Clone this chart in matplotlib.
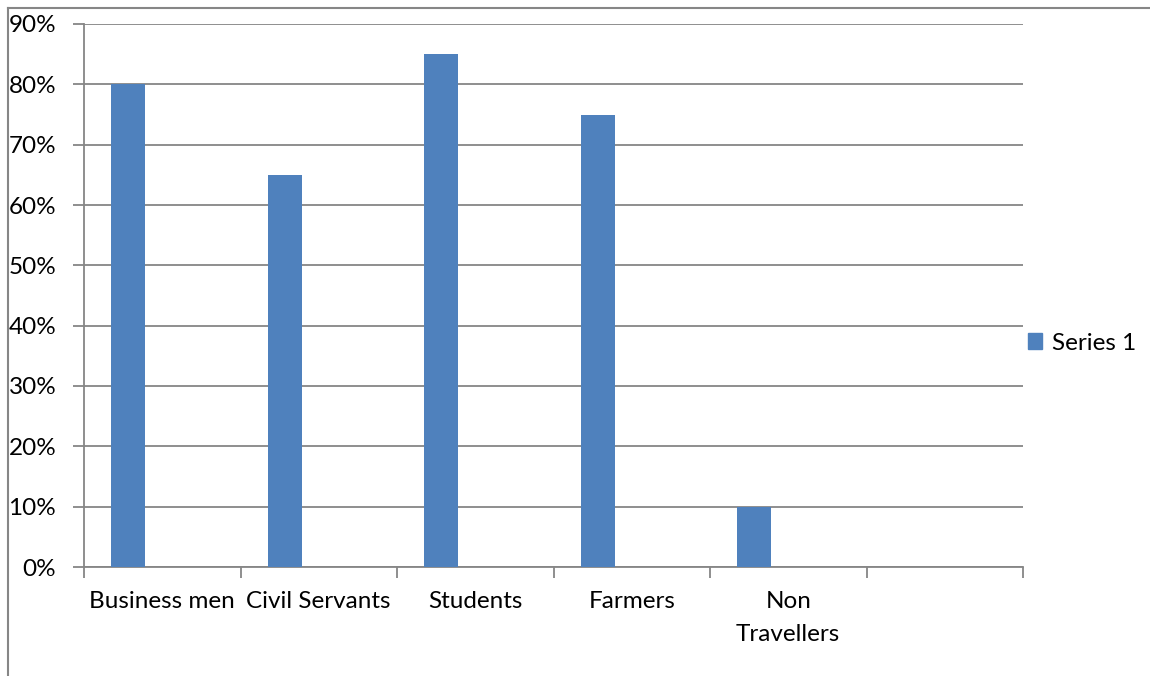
import matplotlib.pyplot as plt
from matplotlib.lines import Line2D
from matplotlib.patches import Patch
from matplotlib.ticker import PercentFormatter

categories = ["Business men", "Civil Servants", "Students", "Farmers", "Non\nTravellers"]
series1 = [0.80, 0.65, 0.85, 0.75, 0.10]
n_slots = 6

W, H = 1150, 676
fig = plt.figure(figsize=(W / 100, H / 100), dpi=100)
plt.rcParams['font.family'] = ['Lato', 'DejaVu Sans']

grey = "#868686"
blue = "#4F81BD"
fs = 17.5

ax = fig.add_axes([84 / W, (H - 567) / H, (1023 - 84) / W, (567 - 24) / H])

bar_w = 0.217
x = [i + 0.5 - bar_w for i in range(len(categories))]
ax.bar(x, series1, width=bar_w, color=blue, zorder=3)

ax.set_xlim(0, n_slots)
ax.set_ylim(0, 0.9)
ax.set_yticks([i / 10 for i in range(10)])
ax.yaxis.set_major_formatter(PercentFormatter(1.0, decimals=0))
ax.grid(axis='y', color=grey, linewidth=1.3, zorder=0)

ax.set_xticks(range(n_slots + 1))
ax.set_xticklabels([])
ax.set_xticks([i + 0.5 for i in range(len(categories))], minor=True)
ax.set_xticklabels(categories, minor=True, fontsize=fs, linespacing=1.75)
ax.tick_params(axis='x', which='major', length=8, width=1.3, color=grey, direction='out')
ax.tick_params(axis='x', which='minor', length=0, pad=17)
ax.tick_params(axis='y', length=8, width=1.3, color=grey, labelsize=fs, pad=12)

for side in ['top', 'right']:
    ax.spines[side].set_visible(False)
for side in ['left', 'bottom']:
    ax.spines[side].set_color(grey)
    ax.spines[side].set_linewidth(1.3)

ax.legend(handles=[Patch(color=blue, label="Series 1")], loc='center left',
          bbox_to_anchor=(1006 / W, (H - 343) / H), bbox_transform=fig.transFigure,
          frameon=False, fontsize=fs, handlelength=0.6, handleheight=0.6,
          handletextpad=0.4)

# outer chart frame (top and left edges visible)
fig.add_artist(Line2D([8 / W, 1], [1 - 8 / H, 1 - 8 / H], color=grey, linewidth=1.5,
                      transform=fig.transFigure))
fig.add_artist(Line2D([8 / W, 8 / W], [0, 1 - 8 / H], color=grey, linewidth=1.5,
                      transform=fig.transFigure))

fig.savefig("out.png", dpi=100)
